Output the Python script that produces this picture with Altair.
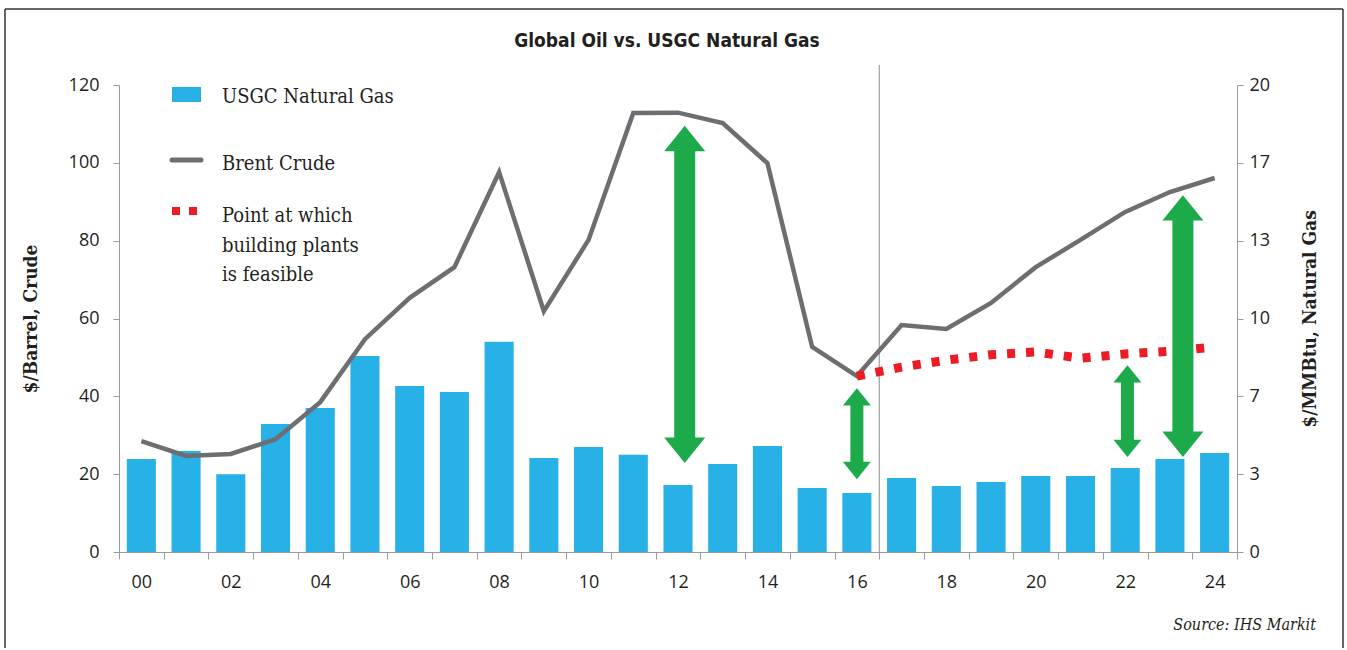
import altair as alt
import pandas as pd

# ---------------- data ----------------
years = list(range(2000, 2025))
usgc_gas = [3.98, 4.33, 3.33, 5.48, 6.17, 8.39, 7.11, 6.85, 9.00, 4.03,
            4.50, 4.16, 2.87, 3.77, 4.54, 2.74, 2.53, 3.17, 2.83, 3.00,
            3.25, 3.25, 3.60, 3.98, 4.24]
brent_crude = [28.5, 24.7, 25.2, 29.0, 38.5, 54.7, 65.3, 73.2, 97.6, 61.9,
               80.2, 112.8, 112.9, 110.2, 99.9, 52.7, 45.2, 58.3, 57.3, 64.0,
               73.2, 80.2, 87.4, 92.5, 96.1]
feasible_years = list(range(2016, 2025))
feasible_price = [45.2, 47.5, 49.3, 50.7, 51.4, 49.8, 50.9, 51.6, 52.7]
arrow_years = [2012.15, 2016.0, 2022.05, 2023.29]
arrow_top = [109.5, 42.1, 48.0, 91.7]
arrow_bottom = [22.9, 18.7, 24.4, 24.4]
arrow_kind = ["large", "small", "small", "large"]
forecast_start = [2016.5]
left_ticks = [0, 20, 40, 60, 80, 100, 120]
right_ticks = [0, 10 / 3, 20 / 3, 10, 40 / 3, 50 / 3, 20]
x_tick_edges = [1999.5 + i for i in range(26)]
legend_labels = ["USGC Natural Gas", "Brent Crude",
                 ["Point at which", "building plants", "is feasible"]]
title_text = "Global Oil vs. USGC Natural Gas"
source_text = "Source: IHS Markit"
left_title = "$/Barrel, Crude"
right_title = "$/MMBtu, Natural Gas"

# ---------------- styling ----------------
W, H = 1118, 467
BLUE = "#27B1E6"
GRAY = "#6D6E71"
RED = "#ED1C24"
GREEN = "#1DAA4B"
AXIS = "#9A9A9A"
TEXT = "#231F20"
SANS = "Open Sans, Lato, sans-serif"
SERIF = "DejaVu Serif Condensed, DejaVu Serif, serif"
TITLE_FONT = "DejaVu Sans Condensed, Liberation Sans Narrow, sans-serif"

gas_df = pd.DataFrame({"year": years, "gas": usgc_gas})
brent_df = pd.DataFrame({"year": years, "brent": brent_crude})
feas_df = pd.DataFrame({"year": feasible_years, "price": feasible_price})
arrow_df = pd.DataFrame({"year": arrow_years, "top": arrow_top,
                         "bottom": arrow_bottom, "kind": arrow_kind})
sep_df = pd.DataFrame({"year": forecast_start})
one = pd.DataFrame({"k": [0]})

x_scale = alt.Scale(domain=[1999.5, 2024.5], nice=False, zero=False)
x_axis = alt.Axis(
    values=x_tick_edges,
    labelExpr="((datum.value + 0.5) % 2 == 0) && datum.value < 2024 ? "
              "slice('0' + ((datum.value + 0.5) % 100), -2) : ''",
    labelOffset=W / 25 / 2, tickSize=7, tickColor=AXIS, domainColor=AXIS,
    labelFont=SANS, labelFontSize=18, labelColor=TEXT, labelPadding=14,
    labelOverlap=False, labelFlush=False, labelBound=False, grid=False, title=None,
)


def X(field):
    return alt.X(field, type="quantitative", scale=x_scale, axis=x_axis)


yl_scale = alt.Scale(domain=[0, 120], nice=False, zero=True)
yl_axis = alt.Axis(
    values=left_ticks, tickSize=6, tickColor=AXIS, domainColor=AXIS,
    labelFont=SANS, labelFontSize=18, labelColor=TEXT, labelPadding=14,
    labelFlush=False, labelOverlap=False,
    grid=False, title=left_title, titleFont=SERIF, titleFontSize=19,
    titleFontWeight="bold", titleColor=TEXT, titlePadding=28,
)


def YL(field):
    return alt.Y(field, type="quantitative", scale=yl_scale, axis=yl_axis)


yr_axis = alt.Axis(
    orient="right", values=right_ticks, format=".0f", tickSize=6,
    tickColor=AXIS, domainColor=AXIS, labelFont=SANS, labelFontSize=18,
    labelColor=TEXT, labelPadding=6, labelFlush=False, labelOverlap=False,
    grid=False, title=right_title,
    titleFont=SERIF, titleFontSize=19, titleFontWeight="bold",
    titleColor=TEXT, titlePadding=50, titleAngle=270,
)

bars = alt.Chart(gas_df).transform_calculate(
    x0="datum.year - 0.325", x1="datum.year + 0.325"
).mark_bar(color=BLUE).encode(
    x=X("x0"), x2="x1:Q",
    y=alt.Y("gas:Q", scale=alt.Scale(domain=[0, 20], nice=False), axis=yr_axis),
    y2=alt.datum(0),
)

sep = alt.Chart(sep_df).mark_rule(color="#8C8C8C", strokeWidth=1).encode(
    x=X("year"), y=alt.value(-20), y2=alt.value(H)
)

brent = alt.Chart(brent_df).mark_line(color=GRAY, strokeWidth=4.5).encode(
    x=X("year"), y=YL("brent")
)

feasible = alt.Chart(feas_df).mark_line(
    color=RED, strokeWidth=9, strokeDash=[8, 11], strokeCap="butt"
).encode(x=X("year"), y=YL("price"))

UP = "M0,0L1,1.24L-1,1.24Z"
DOWN = "M0,0L1,-1.24L-1,-1.24Z"
arrow_layers = []
for kind, shaft, head_h, size in [("large", 21, 24, 1681), ("small", 13, 16, 784)]:
    base = alt.Chart(arrow_df).transform_filter(alt.datum.kind == kind)
    arrow_layers.append(base.mark_rule(
        color=GREEN, strokeWidth=shaft, strokeCap="butt",
        yOffset=head_h, y2Offset=-head_h,
    ).encode(x=X("year"), y=YL("top"), y2="bottom:Q"))
    arrow_layers.append(base.mark_point(
        shape=UP, size=size, filled=True, color=GREEN, opacity=1, strokeWidth=0
    ).encode(x=X("year"), y=YL("top")))
    arrow_layers.append(base.mark_point(
        shape=DOWN, size=size, filled=True, color=GREEN, opacity=1, strokeWidth=0
    ).encode(x=X("year"), y=YL("bottom")))

left_group = alt.layer(sep, brent, feasible, *arrow_layers)

# ---------------- decorations (legend, title, source, frame) ----------------
deco = alt.Chart(one)
frame_color = "#333333"
frame = [
    deco.mark_rule(color=frame_color, strokeWidth=1.5).encode(
        x=alt.value(-114), x2=alt.value(1224), y=alt.value(-76)),
    deco.mark_rule(color=frame_color, strokeWidth=1.5).encode(
        x=alt.value(-114), y=alt.value(-76), y2=alt.value(563)),
    deco.mark_rule(color=frame_color, strokeWidth=1.5).encode(
        x=alt.value(1224), y=alt.value(-76), y2=alt.value(563)),
]
title = deco.mark_text(
    font=TITLE_FONT, fontSize=19, fontWeight="bold", color=TEXT,
    align="center", baseline="middle"
).encode(x=alt.value(548), y=alt.value(-44), text=alt.value(title_text))
source = deco.mark_text(
    font=SERIF, fontSize=16, fontStyle="italic", color=TEXT,
    align="right", baseline="alphabetic"
).encode(x=alt.value(1197), y=alt.value(545), text=alt.value(source_text))

leg_text_style = dict(font=SERIF, fontSize=20, color=TEXT, align="left",
                      baseline="alphabetic", lineHeight=29.5)
legend = [
    deco.mark_rect(color=BLUE).encode(
        x=alt.value(53), x2=alt.value(82), y=alt.value(2), y2=alt.value(17)),
    deco.mark_text(**leg_text_style).encode(
        x=alt.value(103), y=alt.value(18), text=alt.value(legend_labels[0])),
    deco.mark_rule(color=GRAY, strokeWidth=5, strokeCap="round").encode(
        x=alt.value(53), x2=alt.value(82), y=alt.value(75)),
    deco.mark_text(**leg_text_style).encode(
        x=alt.value(103), y=alt.value(85), text=alt.value(legend_labels[1])),
    deco.mark_rule(color=RED, strokeWidth=8, strokeDash=[8, 9], strokeCap="butt").encode(
        x=alt.value(53), x2=alt.value(79), y=alt.value(126)),
    deco.mark_text(**leg_text_style).encode(
        x=alt.value(103), y=alt.value(137), text=alt.value(legend_labels[2])),
]

chart = alt.layer(bars, left_group, *frame, title, source, *legend).resolve_scale(
    y="independent"
).properties(
    width=W, height=H,
    padding={"left": 4, "top": 8, "right": 0, "bottom": 0},
).configure_view(stroke=None)

chart.save("out.html", embed_options={"renderer": "svg", "actions": False})
